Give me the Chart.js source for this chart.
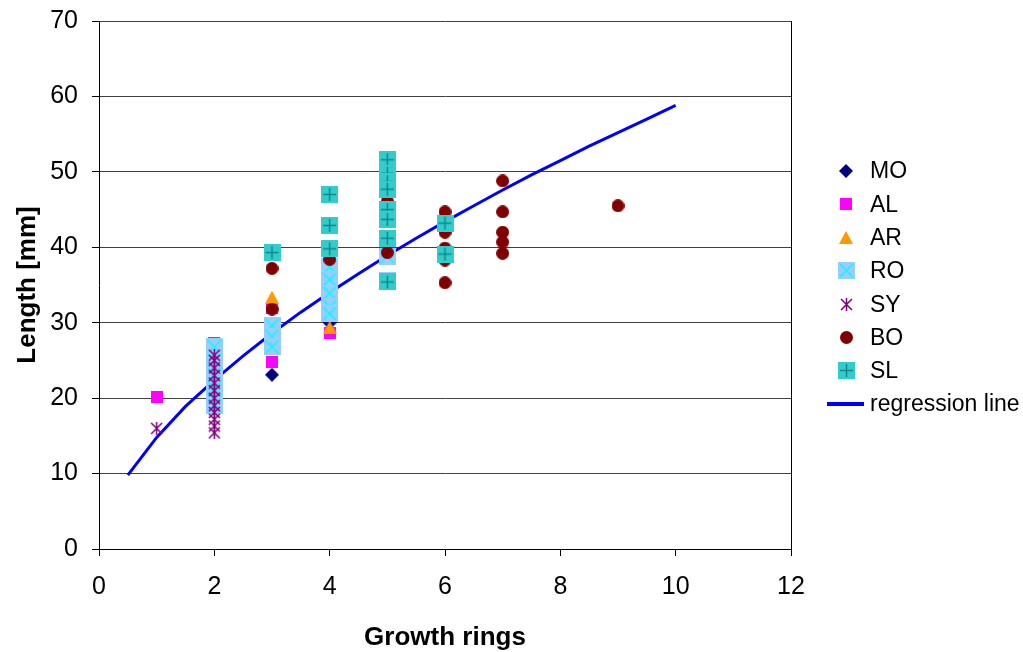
<!DOCTYPE html>
<html>
<head>
<meta charset="utf-8">
<script src="https://cdn.jsdelivr.net/npm/chart.js@4/dist/chart.umd.min.js"></script>
<style>
html, body { margin: 0; padding: 0; background: #fff; }
</style>
</head>
<body>
<canvas id="scatterChart" width="1023" height="652"></canvas>
<script>
// values (growth rings, length in mm)
let mo_rings = [2, 3, 4]
let mo_length = [21.0, 23.1, 30.0]

let al_rings = [1, 2, 2, 3, 3, 4]
let al_length = [20.2, 27.3, 20.3, 24.8, 32.0, 28.6]

let ar_rings = [3, 4]
let ar_length = [33.4, 29.4]

let ro_rings = [2, 2, 2, 2, 2, 2, 3, 3, 3, 4, 4, 4, 4, 4, 5, 5]
let ro_length = [26.8, 25.0, 23.2, 21.4, 19.8, 19.0, 29.6, 28.2, 26.8, 37.4, 35.7, 33.9, 32.1, 31.2, 38.8, 35.6]

let sy_rings = [1, 2, 2, 2, 2, 2, 2, 2, 2, 2, 2, 2, 2]
let sy_length = [16.0, 15.4, 16.3, 17.2, 18.1, 19.0, 20.0, 21.0, 22.0, 23.0, 24.0, 25.0, 25.7]

let bo_rings = [3, 3, 4, 5, 5, 6, 6, 6, 6, 6, 7, 7, 7, 7, 7, 9]
let bo_length = [37.2, 31.8, 38.4, 46.1, 39.3, 44.7, 42.0, 39.9, 38.3, 35.3, 48.8, 44.7, 42.0, 40.7, 39.2, 45.5]

let sl_rings = [3, 4, 4, 4, 5, 5, 5, 5, 5, 5, 5, 5, 6, 6]
let sl_length = [39.3, 47.0, 42.9, 39.8, 51.6, 49.8, 48.7, 47.7, 45.0, 43.7, 41.2, 35.4, 43.2, 39.1]

let reg_rings = [0.5, 1, 1.5, 2, 2.5, 3, 3.5, 4, 4.5, 5, 5.5, 6, 6.5, 7, 7.5, 8, 8.5, 9, 9.5, 10]
let reg_length = [9.8, 14.8, 18.9, 22.4, 25.6, 28.6, 31.4, 34.0, 36.5, 38.9, 41.2, 43.4, 45.5, 47.6, 49.6, 51.5, 53.4, 55.2, 57.0, 58.8]

let x_ticks = [0, 2, 4, 6, 8, 10, 12]
let y_ticks = [0, 10, 20, 30, 40, 50, 60, 70]

const FONT = '"Liberation Sans", Arial, sans-serif'

function pairs(xs, ys) {
    return xs.map((x, i) => ({x: x, y: ys[i]}))
}

function marker(w, h, paint) {
    const c = document.createElement('canvas')
    c.width = w
    c.height = h
    paint(c.getContext('2d'), w, h)
    return c
}

const diamond = marker(14, 14, (g, w, h) => {
    g.fillStyle = '#000080'
    g.beginPath()
    g.moveTo(w / 2, 0); g.lineTo(w, h / 2); g.lineTo(w / 2, h); g.lineTo(0, h / 2)
    g.closePath(); g.fill()
})
const square = marker(12, 12, (g, w, h) => {
    g.fillStyle = '#ff00ff'
    g.fillRect(0, 0, w, h)
})
const triangle = marker(14, 13, (g, w, h) => {
    g.fillStyle = '#ff9900'
    g.beginPath()
    g.moveTo(w / 2, 0); g.lineTo(w, h); g.lineTo(0, h)
    g.closePath(); g.fill()
})
const roBox = marker(17, 17, (g, w, h) => {
    g.fillStyle = '#99ccff'
    g.fillRect(0, 0, w, h)
    g.strokeStyle = '#00ffff'
    g.lineWidth = 1.5
    g.beginPath()
    g.moveTo(2, 2); g.lineTo(w - 2, h - 2)
    g.moveTo(w - 2, 2); g.lineTo(2, h - 2)
    g.stroke()
})
const star = marker(13, 13, (g, w, h) => {
    g.strokeStyle = '#800080'
    g.lineWidth = 1.5
    g.beginPath()
    g.moveTo(1, 1); g.lineTo(w - 1, h - 1)
    g.moveTo(w - 1, 1); g.lineTo(1, h - 1)
    g.moveTo(w / 2, 0); g.lineTo(w / 2, h)
    g.stroke()
})
const dot = marker(13, 13, (g, w, h) => {
    g.fillStyle = '#800000'
    g.beginPath()
    g.arc(w / 2, h / 2, w / 2, 0, Math.PI * 2)
    g.fill()
})
const slBox = marker(17, 17, (g, w, h) => {
    g.fillStyle = '#33cccc'
    g.fillRect(0, 0, w, h)
    g.strokeStyle = '#118888'
    g.lineWidth = 1.5
    g.beginPath()
    g.moveTo(w / 2, 2); g.lineTo(w / 2, h - 2)
    g.moveTo(2, h / 2); g.lineTo(w - 2, h / 2)
    g.stroke()
})

function group(label, xs, ys, style, order) {
    return {label: label, data: pairs(xs, ys), pointStyle: style, pointRadius: 6, order: order}
}

const datasets = [
    group('MO', mo_rings, mo_length, diamond, 7),
    group('AL', al_rings, al_length, square, 6),
    group('AR', ar_rings, ar_length, triangle, 5),
    group('RO', ro_rings, ro_length, roBox, 4),
    group('SY', sy_rings, sy_length, star, 3),
    group('BO', bo_rings, bo_length, dot, 2),
    group('SL', sl_rings, sl_length, slBox, 1),
    {
        label: 'regression line',
        data: pairs(reg_rings, reg_length),
        showLine: true,
        borderColor: '#0000ff',
        borderWidth: 3,
        pointRadius: 0,
        tension: 0,
        order: 10
    }
]

// legend drawn by hand so it sits where the original one is
const sideLegend = {
    id: 'sideLegend',
    afterDraw(chart) {
        const ctx = chart.ctx
        ctx.save()
        ctx.font = '23px ' + FONT
        ctx.fillStyle = '#000'
        ctx.textBaseline = 'middle'
        chart.data.datasets.forEach((ds, i) => {
            const y = 171 + i * 33.3
            if (ds.showLine) {
                ctx.strokeStyle = ds.borderColor
                ctx.lineWidth = 4
                ctx.beginPath()
                ctx.moveTo(827, y)
                ctx.lineTo(864, y)
                ctx.stroke()
            } else {
                const img = ds.pointStyle
                ctx.drawImage(img, Math.round(846 - img.width / 2), Math.round(y - img.height / 2))
            }
            ctx.fillText(ds.label, 870, y + 1)
        })
        ctx.restore()
    }
}

const config = {
    type: 'scatter',
    data: {datasets: datasets},
    options: {
        responsive: false,
        animation: false,
        layout: {padding: {left: 12, right: 232, top: 21, bottom: 0}},
        plugins: {
            legend: {display: false},
            tooltip: {enabled: false}
        },
        scales: {
            x: {
                type: 'linear',
                min: x_ticks[0],
                max: x_ticks[x_ticks.length - 1],
                afterBuildTicks: s => { s.ticks = x_ticks.map(v => ({value: v})) },
                afterFit: s => { s.height = 103; s.paddingLeft = 0; s.paddingRight = 0 },
                ticks: {color: '#000', font: {family: FONT, size: 25}, padding: 16, maxRotation: 0},
                grid: {
                    color: c => (c.tick && c.tick.value === 12) ? '#000' : 'rgba(0,0,0,0)',
                    tickColor: '#000',
                    tickLength: 7,
                    lineWidth: 1
                },
                border: {color: '#000', width: 1},
                title: {display: true, text: 'Growth rings', color: '#000',
                    font: {family: FONT, size: 26, weight: 'bold', lineHeight: 1.1}, padding: {top: 0, bottom: 0}}
            },
            y: {
                type: 'linear',
                min: y_ticks[0],
                max: y_ticks[y_ticks.length - 1],
                afterBuildTicks: s => { s.ticks = y_ticks.map(v => ({value: v})) },
                afterFit: s => { s.width = 87; s.paddingTop = 0; s.paddingBottom = 0 },
                ticks: {color: '#000', font: {family: FONT, size: 25}, padding: 14},
                grid: {color: '#404040', tickColor: '#000', tickLength: 7, lineWidth: 1},
                border: {color: '#000', width: 1},
                title: {display: true, text: 'Length [mm]', color: '#000',
                    font: {family: FONT, size: 26, weight: 'bold'}, padding: {top: 0, bottom: 0}}
            }
        }
    },
    plugins: [sideLegend]
}

const scatterChart = new Chart(document.getElementById('scatterChart').getContext('2d'), config)
</script>
</body>
</html>
